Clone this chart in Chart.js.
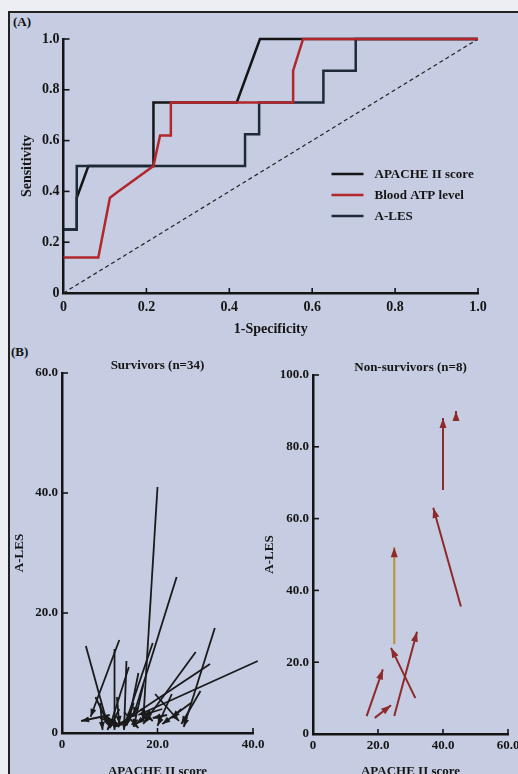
<!DOCTYPE html>
<html>
<head>
<meta charset="utf-8">
<script src="https://cdn.jsdelivr.net/npm/chart.js@4.4.1/dist/chart.umd.min.js"></script>
<style>
  html, body { margin: 0; padding: 0; }
  body { width: 518px; height: 774px; overflow: hidden; position: relative; background: #eceef3; font-family: "Liberation Serif", serif; }
  #frame { position: absolute; left: 8px; top: 11px; width: 530px; height: 790px; border-top: 2px solid #222; border-left: 2px solid #222; background: #c6cde2; }
  .tag { position: absolute; font-weight: bold; font-size: 13px; color: #111; }
  canvas { position: absolute; }
</style>
</head>
<body>
<div id="frame"></div>
<div class="tag" style="left:13px;top:14px">(A)</div>
<div class="tag" style="left:11px;top:344px">(B)</div>
<canvas id="roc" width="502" height="330" style="left:10px;top:12px"></canvas>
<canvas id="surv" width="270" height="445" style="left:10px;top:340px"></canvas>
<canvas id="nonsurv" width="275" height="445" style="left:260px;top:340px"></canvas>
<script>
// (A) ROC curves
const rocTicks = [0, 0.2, 0.4, 0.6, 0.8, 1.0];
const apacheFpr = [0, 0.032, 0.032, 0.06, 0.217, 0.217, 0.418, 0.474, 1];
const apacheSens = [0.25, 0.25, 0.375, 0.5, 0.5, 0.75, 0.75, 1, 1];
const atpFpr = [0, 0.084, 0.112, 0.132, 0.217, 0.233, 0.259, 0.259, 0.554, 0.554, 0.578, 1];
const atpSens = [0.14, 0.14, 0.375, 0.4, 0.5, 0.62, 0.62, 0.75, 0.75, 0.875, 1, 1];
const alesFpr = [0, 0.032, 0.032, 0.438, 0.438, 0.472, 0.472, 0.627, 0.627, 0.705, 0.705, 1];
const alesSens = [0.25, 0.25, 0.5, 0.5, 0.625, 0.625, 0.75, 0.75, 0.875, 0.875, 1, 1];
const refLine = [0, 1];

// (B) change of APACHE II score / A-LES, survivors
const survTicksX = [0, 20, 40];
const survTicksY = [0, 20, 40, 60];
const survApacheFrom = [20, 24, 32, 41, 31, 28, 19, 5, 12, 11, 13.5, 14, 7, 8, 10, 19.5, 29, 27, 23, 17, 16, 21, 12, 15, 9, 18, 14, 10.5, 13, 22, 16.5, 11.5, 25, 8];
const survAlesFrom = [41, 26, 17.5, 12, 11.5, 13.5, 15, 14.5, 15.5, 14, 12, 11, 6, 5, 3, 6.5, 7, 5, 6.5, 8, 10, 4, 4, 5, 3, 3, 2.5, 2, 3.5, 3, 4, 6, 4, 2.5];
const survApacheTo = [17, 15, 25.5, 16, 14, 17, 13, 9.5, 6, 11, 13, 10, 10, 8.5, 4, 24.5, 25, 21, 20, 15, 14, 17, 10, 13.5, 12, 15.5, 11, 9.5, 16, 19, 19, 12, 23, 11];
const survAlesTo = [2, 3, 1, 3, 2.5, 1.5, 1, 1.5, 2.7, 0.5, 0.5, 1, 1, 0.5, 2, 2, 1.5, 1.5, 1.2, 1, 2, 3, 0.8, 1.2, 1, 1.5, 1, 0.5, 0.8, 2.5, 2, 1.5, 2.5, 1.5];

// non-survivors
const nonTicksX = [0, 20, 40, 60];
const nonTicksY = [0, 20, 40, 60, 80, 100];
const nonApacheFrom = [16.5, 19, 25, 31.5, 25, 45.5, 40, 44];
const nonAlesFrom = [5, 4.5, 5, 10, 25, 35.5, 68, 87.5];
const nonApacheTo = [21.5, 24, 32, 24, 25, 37, 40, 44];
const nonAlesTo = [18, 8, 28.5, 24, 52, 63, 88, 90];

const axisFont = { family: 'Liberation Serif', weight: 'bold', size: 14 };
const smallFont = { family: 'Liberation Serif', weight: 'bold', size: 13 };
const ink = '#151515';

function fmt(v) {
  return v === 0 ? '0' : v.toFixed(1);
}

function pts(xs, ys) {
  return xs.map((x, i) => ({ x: x, y: ys[i] }));
}

// small tick marks drawn on the inside of the axes
const innerTicks = {
  id: 'innerTicks',
  afterDraw(chart) {
    const ctx = chart.ctx;
    const area = chart.chartArea;
    ctx.save();
    ctx.strokeStyle = ink;
    ctx.lineWidth = 1.6;
    const xs = chart.scales.x, ys = chart.scales.y;
    xs.ticks.forEach((t) => {
      if (t.value === 0) return;
      const px = xs.getPixelForValue(t.value);
      ctx.beginPath();
      ctx.moveTo(px, area.bottom);
      ctx.lineTo(px, area.bottom - 5);
      ctx.stroke();
    });
    ys.ticks.forEach((t) => {
      if (t.value === 0) return;
      const py = ys.getPixelForValue(t.value);
      ctx.beginPath();
      ctx.moveTo(area.left, py);
      ctx.lineTo(area.left + 6, py);
      ctx.stroke();
    });
    ctx.restore();
  }
};

// arrow heads at the second point of every dataset
const arrowHeads = {
  id: 'arrowHeads',
  afterDatasetsDraw(chart, args, opts) {
    const ctx = chart.ctx;
    const len = opts.len || 8;
    const half = (opts.width || 6) / 2;
    ctx.save();
    chart.data.datasets.forEach((ds, i) => {
      const meta = chart.getDatasetMeta(i);
      if (meta.data.length < 2) return;
      const a = meta.data[0], b = meta.data[1];
      const ang = Math.atan2(b.y - a.y, b.x - a.x);
      const bx = b.x - len * Math.cos(ang);
      const by = b.y - len * Math.sin(ang);
      ctx.fillStyle = ds.headColor || ds.borderColor;
      ctx.beginPath();
      ctx.moveTo(b.x, b.y);
      ctx.lineTo(bx + half * Math.sin(ang), by - half * Math.cos(ang));
      ctx.lineTo(bx - half * Math.sin(ang), by + half * Math.cos(ang));
      ctx.closePath();
      ctx.fill();
    });
    ctx.restore();
  }
};

// legend inside the ROC plot
const rocLegend = {
  id: 'rocLegend',
  afterDraw(chart) {
    const ctx = chart.ctx;
    const area = chart.chartArea;
    ctx.save();
    ctx.font = 'bold 13px "Liberation Serif"';
    ctx.textBaseline = 'middle';
    let row = 0;
    chart.data.datasets.forEach((ds) => {
      if (!ds.label) return;
      const y = area.top + 135 + row * 21;
      const x = area.left + 268;
      ctx.strokeStyle = ds.borderColor;
      ctx.lineWidth = 2.5;
      ctx.beginPath();
      ctx.moveTo(x, y);
      ctx.lineTo(x + 32, y);
      ctx.stroke();
      ctx.fillStyle = ink;
      ctx.fillText(ds.label, x + 43, y + 1);
      row++;
    });
    ctx.restore();
  }
};

function linScale(ticks, min, max, title, font, size, labelPad, titlePad, horizontal) {
  return {
    type: 'linear',
    min: min,
    max: max,
    afterBuildTicks: (s) => { s.ticks = ticks.map((v) => ({ value: v })); },
    afterFit: (s) => { if (horizontal) s.height = size; else s.width = size; },
    grid: { display: true, drawOnChartArea: false, drawTicks: false },
    border: { display: true, color: ink, width: 2.5 },
    ticks: { color: ink, font: font, padding: labelPad, autoSkip: false, maxRotation: 0, callback: (v) => fmt(v) },
    title: { display: true, text: title, color: ink, font: font, padding: titlePad }
  };
}

new Chart(document.getElementById('roc'), {
  type: 'scatter',
  data: {
    datasets: [
      { label: 'APACHE II score', data: pts(apacheFpr, apacheSens), borderColor: '#151515', order: 2 },
      { label: 'Blood ATP level', data: pts(atpFpr, atpSens), borderColor: '#b3262b', order: 0 },
      { label: 'A-LES', data: pts(alesFpr, alesSens), borderColor: '#1c2a3a', order: 1 },
      { label: '', data: pts(refLine, refLine), borderColor: '#222', borderWidth: 1.2, borderDash: [4, 3], order: 3 }
    ]
  },
  options: {
    responsive: false,
    animation: false,
    layout: { padding: { left: 5, right: 34, top: 27, bottom: 0 } },
    datasets: { scatter: { showLine: true, pointRadius: 0, borderWidth: 2.5, clip: 4 } },
    plugins: { legend: { display: false }, tooltip: { enabled: false } },
    scales: {
      x: linScale(rocTicks, 0, 1, '1-Specificity', axisFont, 49, 6, { top: 2, bottom: 4 }, true),
      y: linScale(rocTicks, 0, 1, 'Sensitivity', axisFont, 48.5, 4, { top: 4, bottom: 2 }, false)
    }
  },
  plugins: [innerTicks, rocLegend]
});

function arrowSets(x0, y0, x1, y1, color) {
  return x0.map((x, i) => ({
    data: [{ x: x, y: y0[i] }, { x: x1[i], y: y1[i] }],
    borderColor: color
  }));
}

new Chart(document.getElementById('surv'), {
  type: 'scatter',
  data: { datasets: arrowSets(survApacheFrom, survAlesFrom, survApacheTo, survAlesTo, '#1a1a1a') },
  options: {
    responsive: false,
    animation: false,
    layout: { padding: { left: 0, right: 27, top: 0.4, bottom: 0 } },
    datasets: { scatter: { showLine: true, pointRadius: 0, borderWidth: 1.8, clip: false } },
    plugins: {
      legend: { display: false },
      tooltip: { enabled: false },
      title: { display: true, text: 'Survivors (n=34)', color: ink, font: smallFont, fullSize: false, padding: { top: 17, bottom: 0 } },
      arrowHeads: { len: 8, width: 6 }
    },
    scales: {
      x: linScale(survTicksX, 0, 40, 'APACHE II score', smallFont, 52, 4, { top: 2, bottom: 6 }, true),
      y: linScale(survTicksY, 0, 60, 'A-LES', smallFont, 52, 4, { top: 2, bottom: 2 }, false)
    }
  },
  plugins: [innerTicks, arrowHeads]
});

const nonSets = arrowSets(nonApacheFrom, nonAlesFrom, nonApacheTo, nonAlesTo, '#8e2a2a');
nonSets[4].borderColor = '#b8902f';
nonSets[4].headColor = '#8e2a2a';

new Chart(document.getElementById('nonsurv'), {
  type: 'scatter',
  data: { datasets: nonSets },
  options: {
    responsive: false,
    animation: false,
    layout: { padding: { left: 0, right: 27, top: 2.4, bottom: 0 } },
    datasets: { scatter: { showLine: true, pointRadius: 0, borderWidth: 2, clip: false } },
    plugins: {
      legend: { display: false },
      tooltip: { enabled: false },
      title: { display: true, text: 'Non-survivors (n=8)', color: ink, font: smallFont, fullSize: false, padding: { top: 17, bottom: 0 } },
      arrowHeads: { len: 10, width: 7 }
    },
    scales: {
      x: linScale(nonTicksX, 0, 60, 'APACHE II score', smallFont, 51, 4, { top: 2, bottom: 6 }, true),
      y: linScale(nonTicksY, 0, 100, 'A-LES', smallFont, 53, 4, { top: 2, bottom: 2 }, false)
    }
  },
  plugins: [innerTicks, arrowHeads]
});
</script>
</body>
</html>
